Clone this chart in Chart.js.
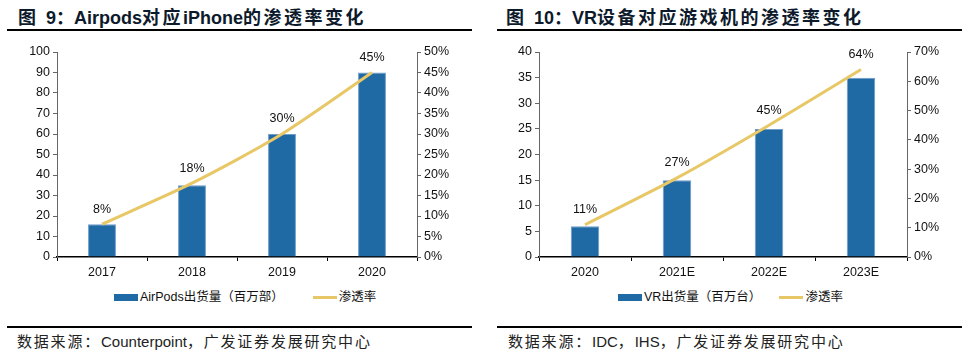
<!DOCTYPE html>
<html><head><meta charset="utf-8">
<script src="https://cdn.jsdelivr.net/npm/chart.js@4/dist/chart.umd.min.js"></script>
<style>
html,body{margin:0;padding:0;background:#fff;}
body{width:974px;height:357px;position:relative;overflow:hidden;font-family:"Liberation Sans","Noto Sans CJK SC",sans-serif;}
.title{position:absolute;top:3px;font-size:18px;font-weight:bold;color:#0d1a2b;white-space:nowrap;}
.title .cj{letter-spacing:2.5px;}
.rule{position:absolute;height:1.5px;background:#000;}
.src{position:absolute;top:333px;font-size:15px;line-height:18px;color:#222;white-space:nowrap;}
.src .cj{letter-spacing:1.8px;}
.cv{position:absolute;top:40px;width:487px;height:245px;}
.leg{position:absolute;top:289px;font-size:12.5px;color:#111;white-space:nowrap;height:16px;line-height:16px;}
.sw{display:inline-block;vertical-align:middle;width:24px;margin-right:2px;}
</style></head>
<body>
<div class="title" style="left:18px;">图&nbsp;&nbsp;9：Airpods<span class="cj">对应</span>iPhone<span class="cj">的渗透率变化</span></div>
<div class="rule" style="left:7px;width:465px;top:29px;"></div>
<div class="cv" style="left:0px;"><canvas id="c1" width="487" height="245"></canvas></div>
<div class="leg" style="left:114px;"><span class="sw" style="height:7px;background:#1F69A4;"></span><span id="l1a"></span><span style="display:inline-block;width:29px;"></span><span class="sw" style="height:3px;background:#E8C766;"></span><span id="l1b"></span></div>
<div class="rule" style="left:7px;width:465px;top:326px;"></div>
<div class="src" style="left:17px;"><span class="cj">数据来源：</span>Counterpoint<span class="cj">，广发证券发展研究中心</span></div>

<div class="title" style="left:506px;">图&nbsp;&nbsp;10：VR<span class="cj">设备对应游戏机的渗透率变化</span></div>
<div class="rule" style="left:497px;width:465px;top:29px;"></div>
<div class="cv" style="left:487px;"><canvas id="c2" width="487" height="245"></canvas></div>
<div class="leg" style="left:618px;"><span class="sw" style="height:7px;background:#1F69A4;"></span><span id="l2a"></span><span style="display:inline-block;width:18px;"></span><span class="sw" style="height:3px;background:#E8C766;"></span><span id="l2b"></span></div>
<div class="rule" style="left:497px;width:465px;top:326px;"></div>
<div class="src" style="left:508px;"><span class="cj">数据来源：</span>IDC<span class="cj">，</span>IHS<span class="cj">，广发证券发展研究中心</span></div>

<script>
// Chart 1 data
const airCategories = ["2017", "2018", "2019", "2020"];
const airShipments = [16, 35, 60, 90];
const airPenetration = [8, 18, 30, 45];
const airBarLabel = "AirPods出货量（百万部）";
// Chart 2 data
const vrCategories = ["2020", "2021E", "2022E", "2023E"];
const vrShipments = [6, 15, 25, 35];
const vrPenetration = [11, 27, 45, 64];
const vrBarLabel = "VR出货量（百万台）";
const lineLabel = "渗透率";

document.getElementById('l1a').textContent = airBarLabel;
document.getElementById('l1b').textContent = lineLabel;
document.getElementById('l2a').textContent = vrBarLabel;
document.getElementById('l2b').textContent = lineLabel;

const FONT = {family: '"Liberation Sans","Noto Sans CJK SC",sans-serif', size: 12.5};
const BAR = '#1F69A4', LINE = '#E8C766';

const labelPlugin = {
  id: 'pctLabels',
  afterDatasetsDraw(chart) {
    const ctx = chart.ctx;
    chart.data.datasets.forEach((ds, i) => {
      if (ds.type !== 'line') return;
      const meta = chart.getDatasetMeta(i);
      ctx.save();
      ctx.font = '12.5px ' + FONT.family;
      ctx.fillStyle = '#111';
      ctx.textAlign = 'center';
      ctx.textBaseline = 'middle';
      meta.data.forEach((pt, j) => {
        ctx.fillText(ds.data[j] + '%', pt.x, pt.y - 15);
      });
      ctx.restore();
    });
  }
};

function makeChart(id, cats, bars, line, yMax, yStep, pMax, pStep, leftW, rightW) {
  return new Chart(document.getElementById(id), {
    data: {
      labels: cats,
      datasets: [
        {type: 'line', data: line, yAxisID: 'y1', borderColor: LINE, borderWidth: 3,
         pointRadius: 0, tension: 0.25, order: 0},
        {type: 'bar', data: bars, yAxisID: 'y', backgroundColor: BAR,
         borderColor: '#6E9CC8', borderWidth: 1,
         barPercentage: 0.31, categoryPercentage: 1, order: 1}
      ]
    },
    options: {
      responsive: false, animation: false,
      layout: {padding: {top: 12, left: 0, right: 0, bottom: 0}},
      plugins: {legend: {display: false}, tooltip: {enabled: false}},
      scales: {
        x: {
          grid: {offset: true, drawOnChartArea: false, drawTicks: true, tickLength: 4, color: '#000'},
          border: {color: '#000', width: 1.5},
          ticks: {font: FONT, color: '#111', padding: 4, maxRotation: 0},
          afterFit(s) { s.height = 28; }
        },
        y: {
          position: 'left', min: 0, max: yMax,
          grid: {drawOnChartArea: false, tickLength: 4, color: '#666'},
          border: {color: '#666', width: 1},
          ticks: {font: FONT, color: '#111', stepSize: yStep, padding: 3},
          afterFit(s) { s.width = leftW; }
        },
        y1: {
          position: 'right', min: 0, max: pMax,
          grid: {drawOnChartArea: false, tickLength: 4, color: '#666'},
          border: {color: '#666', width: 1},
          ticks: {font: FONT, color: '#111', stepSize: pStep, padding: 3,
                  callback: v => Math.round(v) + '%'},
          afterFit(s) { s.width = rightW; }
        }
      }
    },
    plugins: [labelPlugin]
  });
}

makeChart('c1', airCategories, airShipments, airPenetration, 100, 10, 50, 5, 57, 70);
makeChart('c2', vrCategories, vrShipments, vrPenetration, 40, 5, 70, 10, 52, 67);
</script>
</body></html>
